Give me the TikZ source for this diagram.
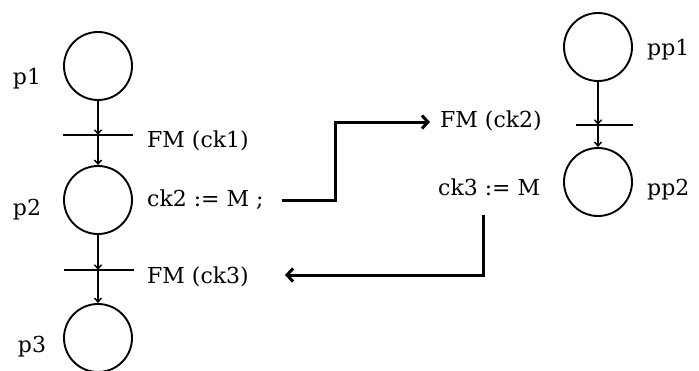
\documentclass[tikz,border=0pt]{standalone}
\usepackage{fontspec}
\setmainfont{DejaVu Serif}
\usetikzlibrary{arrows.meta}
\begin{document}
\begin{tikzpicture}[x=1pt,y=-1pt,
  place/.style={draw, circle, minimum size=68pt, inner sep=0pt, line width=1.9pt},
  trans/.style={inner sep=0pt, minimum width=0pt, minimum height=0pt},
  bar/.style={line width=1.3pt},
  arc/.style={line width=1.4pt, -{Straight Barb[length=4pt,width=7pt]}},
  flow/.style={line width=3pt, -{Straight Barb[length=6pt,width=13pt]}},
  lbl/.style={font=\fontsize{22}{25}\selectfont, inner sep=0pt}]
\useasboundingbox (0,0) rectangle (699,370);
% places
\node[place] (p1) at (98,66) {};
\node[place] (p2) at (98,200) {};
\node[place] (p3) at (98,338) {};
\node[place] (pp1) at (598,47) {};
\node[place] (pp2) at (598,182) {};
% transitions
\node[trans] (t1) at (98,135) {};
\node[trans] (t2) at (98,270) {};
\node[trans] (tt1) at (598,125) {};
\draw[bar] ([xshift=-35pt]t1.center) -- ([xshift=35pt]t1.center);
\draw[bar] ([xshift=-34pt]t2.center) -- ([xshift=36pt]t2.center);
\draw[bar] ([xshift=-22pt]tt1.center) -- ([xshift=35pt]tt1.center);
% arcs
\draw[arc] (p1) -- (t1);
\draw[arc] (t1) -- (p2);
\draw[arc] (p2) -- (t2);
\draw[arc] (t2) -- (p3);
\draw[arc] (pp1) -- (tt1);
\draw[arc] (tt1) -- (pp2);
% labels
\node[lbl] (lp1) at (27,79) {p1};
\node[lbl] (lp2) at (27,210) {p2};
\node[lbl] (lp3) at (32,347) {p3};
\node[lbl, anchor=west] (lpp1) at (647,50) {pp1};
\node[lbl, anchor=west] (lpp2) at (647,190) {pp2};
\node[lbl, anchor=west] (fm1) at (147,141) {FM (ck1)};
\node[lbl, anchor=west] (ck2) at (147,200) {ck2 := M ;};
\node[lbl, anchor=west] (fm3) at (147,277) {FM (ck3)};
\node[lbl, anchor=west] (fm2) at (440,121) {FM (ck2)};
\node[lbl, anchor=west] (ck3) at (438,187) {ck3 := M};
% flow connectors
\coordinate (f1s) at (282,200);
\coordinate (f1c) at (335,122);
\coordinate (f1e) at (430,122);
\coordinate (f2s) at (483,215);
\coordinate (f2c) at (483,275);
\coordinate (f2e) at (285,275);
\draw[flow] (f1s) -| (f1c) -- (f1e);
\draw[flow] (f2s) -- (f2c) -- (f2e);
\end{tikzpicture}
\end{document}
